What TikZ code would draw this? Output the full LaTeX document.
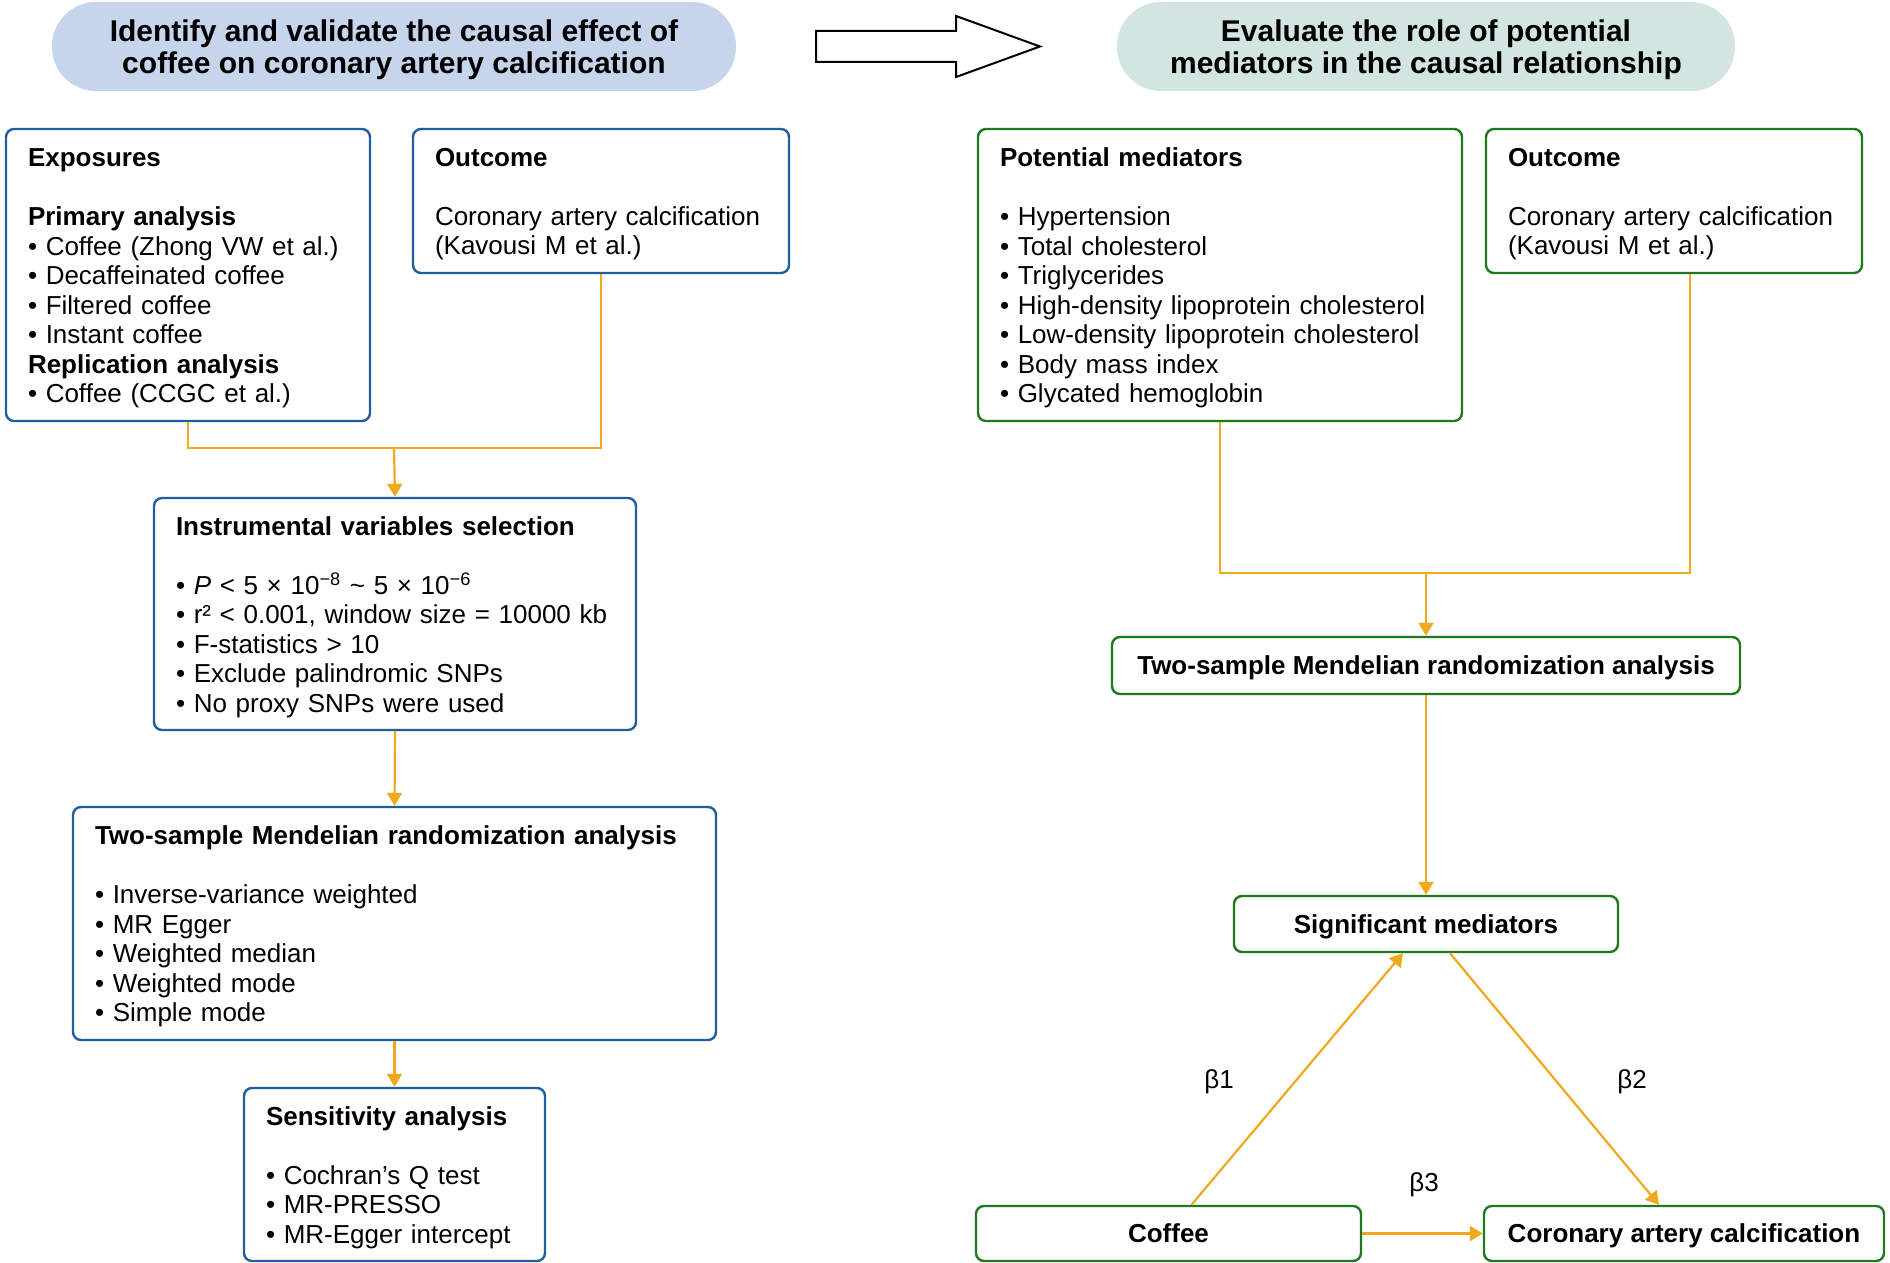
\documentclass[tikz,border=0pt]{standalone}
\usepackage{fontspec}
\setmainfont{Liberation Sans}
\usetikzlibrary{arrows.meta}
\definecolor{boxblue}{HTML}{1F5F9F}
\definecolor{boxgreen}{HTML}{1F7A1F}
\definecolor{arrorange}{HTML}{F0A81C}
\definecolor{pillblue}{HTML}{C6D5EC}
\definecolor{pillgreen}{HTML}{D2E5E0}
\newcommand\bodyfnt{\fontsize{13}{14.75}\selectfont}
\newcommand\titlefnt{\fontsize{15}{16.3}\selectfont\bfseries}
\newcommand\topstrut{\rule{0pt}{12.3pt}}
\newcommand\titlestrut{\rule{0pt}{14.1pt}}
\tikzset{
  basebox/.style={line width=1.2pt, rounded corners=4pt, fill=white, font=\bodyfnt},
  bluebox/.style={basebox, draw=boxblue, align=left, inner xsep=11pt, inner ysep=0pt},
  greenbox/.style={basebox, draw=boxgreen, align=left, inner xsep=11pt, inner ysep=0pt},
  smallbox/.style={basebox, draw=boxgreen, align=center, inner sep=0pt, font=\bodyfnt\bfseries, text height=9.4pt, text depth=0pt},
  pill/.style={rounded corners=22pt, align=center, inner sep=0pt, font=\titlefnt, minimum height=44.5pt},
  conn/.style={draw=arrorange, line width=1.1pt},
  arr/.style={conn, -{Triangle[length=6.5pt,width=7.5pt]}},
  blabel/.style={font=\bodyfnt, inner sep=0pt},
}
\begin{document}
\begin{tikzpicture}[x=0.5pt,y=-0.5pt]
\useasboundingbox (0,0) rectangle (1890,1263);
% titles
\node[pill, fill=pillblue, minimum width=342pt] (t1) at (394,46.5)
  {\titlestrut Identify and validate the causal effect of\\coffee on coronary artery calcification};
\node[pill, fill=pillgreen, minimum width=309pt] (t2) at (1426,46.5)
  {\titlestrut Evaluate the role of potential\\mediators in the causal relationship};
\draw[line width=1pt] (816,31) -- (956,31) -- (956,16) -- (1040,46.5) -- (956,77) -- (956,62) -- (816,62) -- cycle;
% left column
\node[bluebox, text width=160pt, minimum height=146pt] (exp) at (188,275)
  {\topstrut\textbf{Exposures}\\[14.75pt]
   \textbf{Primary analysis}\\
   • Coffee (Zhong VW et al.)\\
   • Decaffeinated coffee\\
   • Filtered coffee\\
   • Instant coffee\\
   \textbf{Replication analysis}\\
   • Coffee (CCGC et al.)};
\node[bluebox, text width=166pt, minimum height=72pt] (out1) at (601,201)
  {\topstrut\textbf{Outcome}\\[14.75pt]
   Coronary artery calcification\\
   (Kavousi M et al.)};
\node[bluebox, text width=219pt, minimum height=116pt] (iv) at (395,614)
  {\topstrut\textbf{Instrumental variables selection}\\[14.75pt]
   • \textit{P} < 5 × 10\textsuperscript{−8} \textasciitilde{} 5 × 10\textsuperscript{−6}\\
   • r² < 0.001, window size = 10000 kb\\
   • F-statistics > 10\\
   • Exclude palindromic SNPs\\
   • No proxy SNPs were used};
\node[bluebox, text width=299.5pt, minimum height=116.5pt] (mr1) at (394.5,923.5)
  {\topstrut\textbf{Two-sample Mendelian randomization analysis}\\[14.75pt]
   • Inverse-variance weighted\\
   • MR Egger\\
   • Weighted median\\
   • Weighted mode\\
   • Simple mode};
\node[bluebox, text width=128.5pt, minimum height=86.5pt] (sens) at (394.5,1174.5)
  {\topstrut\textbf{Sensitivity analysis}\\[14.75pt]
   • Cochran’s Q test\\
   • MR-PRESSO\\
   • MR-Egger intercept};
% right column
\node[greenbox, text width=220pt, minimum height=146pt] (med) at (1220,275)
  {\topstrut\textbf{Potential mediators}\\[14.75pt]
   • Hypertension\\
   • Total cholesterol\\
   • Triglycerides\\
   • High-density lipoprotein cholesterol\\
   • Low-density lipoprotein cholesterol\\
   • Body mass index\\
   • Glycated hemoglobin};
\node[greenbox, text width=166pt, minimum height=72pt] (out2) at (1674,201)
  {\topstrut\textbf{Outcome}\\[14.75pt]
   Coronary artery calcification\\
   (Kavousi M et al.)};
\node[smallbox, minimum width=314pt, minimum height=28.5pt] (mr2) at (1426,665.5)
  {Two-sample Mendelian randomization analysis};
\node[smallbox, minimum width=192pt, minimum height=28pt] (sm) at (1426,924)
  {Significant mediators};
\node[smallbox, minimum width=192.5pt, minimum height=27.5pt] (cof) at (1168.5,1233.5)
  {Coffee};
\node[smallbox, minimum width=200pt, minimum height=27.5pt] (cac) at (1684,1233.5)
  {Coronary artery calcification};
% connectors left
\coordinate (j1) at (394,448);
\draw[conn] (exp.south) |- (j1) -| (out1.south);
\draw[arr] (j1) -- (iv.north);
\draw[arr] (iv.south) -- (mr1.north);
\draw[arr] (mr1.south) -- (sens.north);
% connectors right
\coordinate (j2) at (1426,573);
\coordinate (o2b) at ([xshift=8pt]out2.south);
\draw[conn] (med.south) |- (j2) -| (o2b);
\draw[arr] (j2) -- (mr2.north);
\draw[arr] (mr2.south) -- (sm.north);
\draw[arr] ([xshift=11.5pt]cof.north) -- ([xshift=-11.5pt]sm.south);
\draw[arr] ([xshift=12pt]sm.south) -- ([xshift=-12.5pt]cac.north);
\draw[arr] (cof.east) -- (cac.west);
% labels
\node[blabel] (b1) at (1219,1082) {β1};
\node[blabel] (b2) at (1632,1082) {β2};
\node[blabel] (b3) at (1424,1185) {β3};
\end{tikzpicture}
\end{document}
